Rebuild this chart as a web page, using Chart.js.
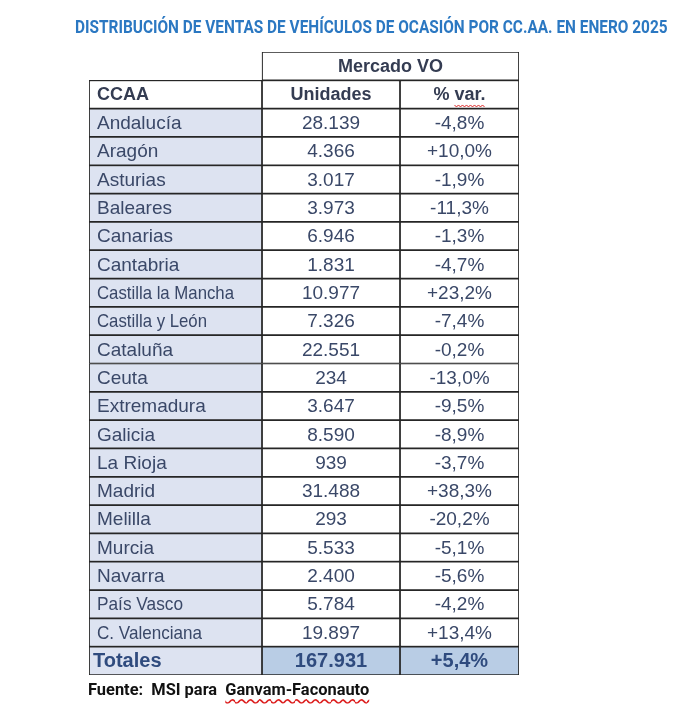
<!DOCTYPE html>
<html>
<head>
<meta charset="utf-8">
<script src="https://cdn.jsdelivr.net/npm/chart.js@4.4.1/dist/chart.umd.min.js"></script>
<style>
  body { margin: 0; background: #fff; }
  #wrap { position: relative; width: 696px; height: 717px; overflow: hidden; }
  #title, #source {
    position: absolute; white-space: pre; transform-origin: 0 0;
    font-family: "Roboto", "Liberation Sans", sans-serif; font-weight: bold;
  }
  #title { left: 75px; top: 16px; font-size: 18px; color: #2b78c2; }
  #source { left: 88px; top: 680px; font-size: 16px; color: #111; }
  #source span { text-decoration: underline wavy #d22; text-underline-offset: 3px; }
</style>
</head>
<body>
<div id="wrap">
  <canvas id="table" width="696" height="717"></canvas>
  <div id="title">DISTRIBUCIÓN DE VENTAS DE VEHÍCULOS DE OCASIÓN POR CC.AA. EN ENERO 2025</div>
  <div id="source">Fuente:  MSI para  <span>Ganvam-Faconauto</span></div>
</div>
<script>
const regions = [
  "Andalucía", "Aragón", "Asturias", "Baleares", "Canarias", "Cantabria",
  "Castilla la Mancha", "Castilla y León", "Cataluña", "Ceuta", "Extremadura",
  "Galicia", "La Rioja", "Madrid", "Melilla", "Murcia", "Navarra",
  "País Vasco", "C. Valenciana",
];
const unidades = [
  28139, 4366, 3017, 3973, 6946, 1831, 10977, 7326, 22551, 234, 3647,
  8590, 939, 31488, 293, 5533, 2400, 5784, 19897,
];
const variacion = [
  -4.8, 10.0, -1.9, -11.3, -1.3, -4.7, 23.2, -7.4, -0.2, -13.0, -9.5,
  -8.9, -3.7, 38.3, -20.2, -5.1, -5.6, -4.2, 13.4,
];
const totalUnidades = 167931;
const totalVariacion = 5.4;

// column edges in px units of the x scale
const edges = [0, 173, 311, 430];
// some labels are set narrower in the original
const narrowLabels = { "Castilla la Mancha": 137, "Castilla y León": 110, "País Vasco": 86, "C. Valenciana": 105 };

// squeeze the condensed title and source lines to their widths
const fit = (id, w) => {
  const el = document.getElementById(id);
  el.style.transform = "scaleX(" + w / el.offsetWidth + ")";
};
fit("title", 593);
fit("source", 281);

const rows = ["Mercado VO", "CCAA", ...regions, "Totales"];
const last = rows.length - 1;

const fmtInt = (n) => String(n).replace(/\B(?=(\d{3})+(?!\d))/g, ".");
const fmtPct = (v) => (v > 0 ? "+" : v < 0 ? "-" : "") + Math.abs(v).toFixed(1).replace(".", ",") + "%";

const firstBg = "#dde3f1";
const totalBg = "#b9cde5";
const font = "'Liberation Sans', Arial, sans-serif";

const textPlugin = {
  id: "cellText",
  afterDatasetsDraw(chart) {
    const { ctx, scales: { x, y } } = chart;
    const c1 = x.getPixelForValue(edges[0]) + 8;
    const c2 = x.getPixelForValue((edges[1] + edges[2]) / 2);
    const c3 = x.getPixelForValue((edges[2] + edges[3]) / 2);
    ctx.save();
    ctx.textBaseline = "middle";
    rows.forEach((label, i) => {
      const py = y.getPixelForValue(i) + 1;
      if (i === 0) {
        ctx.font = "bold 18px " + font;
        ctx.fillStyle = "#343c52";
        ctx.textAlign = "center";
        ctx.fillText(label, x.getPixelForValue((edges[1] + edges[3]) / 2), py);
        return;
      }
      let a, b;
      if (i === 1) {
        ctx.font = "bold 18px " + font;
        ctx.fillStyle = "#343c52";
        a = "Unidades"; b = "% var.";
      } else if (i === last) {
        ctx.font = "bold 20px " + font;
        ctx.fillStyle = "#2f4b7e";
        a = fmtInt(totalUnidades); b = fmtPct(totalVariacion);
      } else {
        ctx.font = "19px " + font;
        ctx.fillStyle = "#3a4868";
        a = fmtInt(unidades[i - 2]); b = fmtPct(variacion[i - 2]);
      }
      ctx.textAlign = "left";
      if (narrowLabels[label]) ctx.fillText(label, c1, py, narrowLabels[label]);
      else ctx.fillText(label, i === last ? c1 - 4 : c1, py);
      ctx.textAlign = "center";
      ctx.fillText(a, c2, py);
      ctx.fillText(b, c3, py);
      if (i === 1) {
        // spell-check squiggle under "var."
        const w = ctx.measureText(b).width;
        const w2 = ctx.measureText("var.").width;
        const sx = c3 + w / 2 - w2, ex = c3 + w / 2, sy = py + 10;
        ctx.strokeStyle = "#d22";
        ctx.lineWidth = 1;
        ctx.beginPath();
        for (let px = sx, k = 0; px <= ex; px += 2, k++) {
          const yy = sy + (k % 2 ? 1.5 : -0.5);
          k ? ctx.lineTo(px, yy) : ctx.moveTo(px, yy);
        }
        ctx.stroke();
      }
    });
    ctx.restore();
  },
};

const col1 = rows.map((r, i) => (i === 0 ? null : [edges[0], edges[1]]));
const col2 = rows.map((r, i) => (i === 0 ? [edges[1], edges[3]] : [edges[1], edges[2]]));
const col3 = rows.map((r, i) => (i === 0 ? null : [edges[2], edges[3]]));

const cell = (bg) => ({
  backgroundColor: bg,
  borderColor: "#262626",
  borderWidth: 1.2,
  borderSkipped: false,
  categoryPercentage: 1,
  barPercentage: 1,
  grouped: false,
});

new Chart(document.getElementById("table"), {
  type: "bar",
  data: {
    labels: rows,
    datasets: [
      { data: col1, ...cell(rows.map((r, i) => (i === 1 ? "#ffffff" : firstBg))) },
      { data: col2, ...cell(rows.map((r, i) => (i === last ? totalBg : "#ffffff"))) },
      { data: col3, ...cell(rows.map((r, i) => (i === last ? totalBg : "#ffffff"))) },
    ],
  },
  options: {
    indexAxis: "y",
    responsive: false,
    animation: false,
    layout: { padding: { left: 89, right: 177, top: 52, bottom: 42 } },
    plugins: { legend: { display: false }, tooltip: { enabled: false } },
    scales: {
      x: { type: "linear", min: edges[0], max: edges[3], display: false },
      y: { display: false },
    },
  },
  plugins: [textPlugin],
});
</script>
</body>
</html>
